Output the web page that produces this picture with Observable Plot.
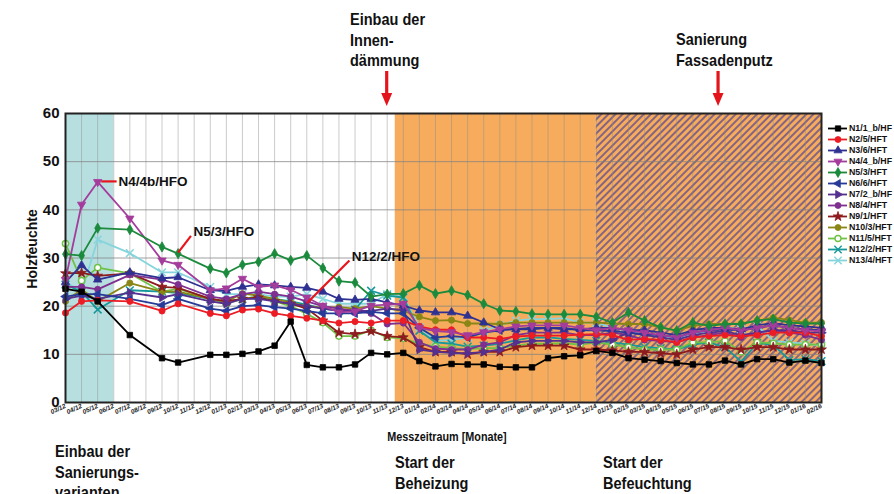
<!DOCTYPE html>
<html><head><meta charset="utf-8">
<script src="https://cdn.jsdelivr.net/npm/d3@7"></script>
<script src="https://cdn.jsdelivr.net/npm/@observablehq/plot@0.6"></script>
<style>
body{margin:0;background:#fff}
#wrap{position:relative;width:894px;height:494px;overflow:hidden;background:#fff;
  font-family:"Liberation Sans",Arial,sans-serif;font-weight:bold;color:#111}
#wrap svg{position:absolute}
.ann{position:absolute;font-size:16.5px;line-height:20.5px;white-space:nowrap;transform:scaleX(0.88);transform-origin:0 0}
#xlab{position:absolute;left:0;width:894px;top:430px;text-align:center;font-size:12px;transform:scaleX(0.9);transform-origin:447px 0}
#ylab{position:absolute;left:-28px;top:239px;width:120px;height:20px;line-height:20px;text-align:center;font-size:14px;transform:rotate(-90deg);transform-origin:60px 10px}
#chart g[aria-label^="x-axis"] text{font-family:"Liberation Sans",Arial,sans-serif;font-weight:bold;font-size:6.5px;font-style:italic;fill:#222}
#chart g[aria-label^="y-axis"] text{font-family:"Liberation Sans",Arial,sans-serif;font-weight:bold;font-size:15px;fill:#111}
</style></head><body>
<div id="wrap">
  <div class="ann" style="left:350px;top:9px">Einbau der<br>Innen-<br>dämmung</div>
  <div class="ann" style="left:676px;top:29px">Sanierung<br>Fassadenputz</div>
  <div id="xlab">Messzeitraum [Monate]</div>
  <div id="ylab">Holzfeuchte</div>
  <div class="ann" style="left:55px;top:441px">Einbau der<br>Sanierungs-<br>varianten</div>
  <div class="ann" style="left:395px;top:452px">Start der<br>Beheizung</div>
  <div class="ann" style="left:603px;top:452px">Start der<br>Befeuchtung</div>
</div>
<script>
// ---------- data ----------
const monthLabels = ["03/12","04/12","05/12","06/12","07/12","08/12","09/12","10/12","11/12","12/12",
  "01/13","02/13","03/13","04/13","05/13","06/13","07/13","08/13","09/13","10/13","11/13","12/13",
  "01/14","02/14","03/14","04/14","05/14","06/14","07/14","08/14","09/14","10/14","11/14","12/14",
  "01/15","02/15","03/15","04/15","05/15","06/15","07/15","08/15","09/15","10/15","11/15","12/15",
  "01/16","02/16"];
const measuredMonths = ["03/12","04/12","05/12","07/12","09/12","10/12","12/12",
  "01/13","02/13","03/13","04/13","05/13","06/13","07/13","08/13","09/13","10/13","11/13","12/13",
  "01/14","02/14","03/14","04/14","05/14","06/14","07/14","08/14","09/14","10/14","11/14","12/14",
  "01/15","02/15","03/15","04/15","05/15","06/15","07/15","08/15","09/15","10/15","11/15","12/15",
  "01/16","02/16"];
const yTicks = [0,10,20,30,40,50,60];
const seriesNames = ["N1/1_b/HF","N2/5/HFT","N3/6/HFT","N4/4_b/HF","N5/3/HFT","N6/6/HFT","N7/2_b/HF",
  "N8/4/HFT","N9/1/HFT","N10/3/HFT","N11/5/HFT","N12/2/HFT","N13/4/HFT"];

const n1  = [23.6,23.0,21.0,14.0,9.2,8.3,9.9,9.9,10.1,10.6,11.8,16.8, 7.8,7.3,7.3,7.9,10.3,10.0,10.3,8.6,7.5,8.0,7.9,7.9,7.4,7.3,7.3,9.2,9.6,9.8,10.7, 10.3,9.2,8.9,8.6,8.2,7.9,7.9,8.7,7.9,9.0,9.0,8.3,8.7,8.2];
const n2  = [18.6,21.0,21.2,21.0,19.0,20.5,18.5,18.0,19.2,19.4,18.5,18.0, 17.5,17.0,16.5,16.8,16.5,17.0,17.0,15.8,15.1,15.1,13.5,13.5,13.2,13.7,13.9,13.9,13.9,14.1,14.2, 14.0,13.0,13.2,13.0,12.5,13.5,13.8,14.0,13.8,14.0,14.5,14.5,14.5,13.8];
const n3  = [25.0,28.5,25.5,27.0,25.8,26.0,23.3,23.2,24.0,24.5,24.3,24.0, 23.8,23.0,21.5,21.3,21.5,20.8,20.1,19.1,18.7,18.7,18.0,16.6,15.2,15.2,15.2,15.5,15.2,15.2,15.5, 15.5,15.0,15.0,14.5,14.0,15.0,15.5,15.5,15.2,16.0,16.5,16.0,15.8,15.5];
const n4  = [25.5,41.1,45.8,38.2,29.5,28.6,23.3,23.7,25.7,24.0,24.3,23.4, 21.8,20.1,18.7,18.9,20.1,20.3,20.5,15.5,14.8,14.6,14.0,14.6,15.2,15.8,16.0,16.0,16.0,15.5,15.0, 15.5,15.0,14.5,14.0,13.5,14.5,15.0,15.5,15.0,15.5,16.0,15.5,15.0,14.8];
const n5  = [30.8,30.5,36.2,35.9,32.3,30.9,27.8,26.9,28.6,29.2,30.9,29.5, 30.5,27.9,25.2,24.9,22.0,22.5,22.6,24.3,22.6,23.2,22.3,20.5,19.1,18.9,18.4,18.3,18.3,18.3,17.8, 16.6,18.7,17.0,15.6,14.9,16.6,15.9,16.3,16.3,17.0,17.3,16.6,16.4,16.4];
const n6  = [22.0,22.5,22.5,21.5,20.2,21.5,19.5,19.0,20.0,20.2,19.8,19.5, 19.0,18.5,18.5,18.5,18.8,18.5,18.5,15.5,13.5,13.8,13.5,14.5,15.0,15.3,15.5,15.5,15.5,15.0,15.0, 14.8,14.5,14.2,14.0,13.5,14.5,15.0,15.2,15.0,15.5,16.0,15.5,15.2,15.0];
const n7  = [21.5,22.2,21.5,22.8,21.8,22.5,21.0,20.5,21.5,21.5,21.0,20.5, 20.0,19.5,19.0,19.0,19.0,19.5,19.2,11.0,10.5,10.3,10.2,10.5,11.0,12.5,12.8,12.8,12.8,12.5,12.5, 13.0,14.5,14.0,13.5,13.0,14.0,14.5,14.8,14.0,14.5,15.0,15.0,14.5,14.5];
const n8  = [24.0,24.0,23.5,26.5,25.5,24.5,22.0,21.5,22.5,23.0,22.5,22.0, 21.0,20.0,19.5,19.0,18.5,16.3,16.5,12.5,11.2,11.0,11.0,12.0,12.5,14.0,14.5,14.5,14.5,14.0,14.0, 14.5,14.0,13.0,12.8,12.5,13.5,14.0,14.5,13.5,14.5,15.0,14.5,14.0,13.0];
const n9  = [26.8,26.9,26.3,26.8,24.0,23.8,21.5,21.0,21.5,21.8,21.0,20.5, 19.5,17.0,14.5,14.2,14.8,13.8,13.5,11.5,10.5,10.5,10.0,10.5,10.5,11.5,11.8,11.8,11.8,11.0,11.0, 10.8,10.5,10.5,10.2,10.0,11.0,11.5,11.5,11.0,11.5,11.5,11.0,11.0,11.0];
const n10 = [21.0,23.5,21.0,24.8,23.0,23.0,21.5,21.0,22.6,22.2,21.5,20.8, 20.0,19.7,19.8,19.5,20.0,19.5,19.0,17.8,17.0,17.1,16.4,16.4,16.3,16.6,16.6,16.6,16.6,16.6,16.6, 16.4,16.3,16.3,15.6,14.9,15.9,16.3,16.3,16.4,17.0,17.6,17.1,16.6,16.6];
const n11 = [33.0,25.3,28.0,26.8,23.0,23.6,21.5,20.5,21.5,22.0,21.0,20.0, 18.4,16.6,13.8,13.8,15.0,13.5,13.3,12.2,11.6,11.3,11.1,11.3,11.3,11.8,12.2,12.2,12.3,12.0,12.5, 12.0,11.5,11.0,11.0,11.0,12.5,12.5,12.8,10.5,12.5,12.3,12.0,12.0,12.0];
const n12 = [24.5,23.0,19.3,23.3,23.0,22.7,21.5,21.0,21.5,22.0,21.5,21.0, 20.3,19.5,19.0,19.3,23.2,22.2,21.8,14.9,12.5,12.2,11.6,11.8,12.2,12.9,13.5,13.5,13.2,13.0,12.8, 12.5,12.0,11.5,11.3,11.0,12.0,12.5,11.5,8.5,12.3,12.0,8.8,9.0,8.6];
const n13 = [25.0,23.0,33.8,31.0,27.0,27.0,24.0,22.5,22.5,22.5,22.0,22.0, 22.5,21.5,20.5,20.5,20.5,22.5,22.0,15.6,12.8,13.0,13.5,14.9,16.0,17.0,17.3,17.3,17.5,16.6,16.6, 15.5,14.8,14.3,13.8,13.2,14.2,14.8,15.6,15.2,16.0,12.8,12.5,12.2,11.8];
const seriesValues = [n1,n2,n3,n4,n5,n6,n7,n8,n9,n10,n11,n12,n13];

// phases (month labels)
const heatingStart = 20.5;          // between 11/13 and 12/13
const phaseRenovation = ["03/12","06/12"];
const phaseHumid = ["12/14","02/16"];
const callouts = [
  {label:"N4/4b/HFO", month:3.3, value:45.9, fromMonth:2.22, fromValue:45.9, toMonth:3.18, toValue:45.9},
  {label:"N5/3/HFO", month:7.95, value:35.4, fromMonth:7.0, fromValue:31.1, toMonth:7.8, toValue:34.6},
  {label:"N12/2/HFO", month:17.8, value:30.2, fromMonth:15.0, fromValue:20.6, toMonth:17.65, toValue:29.5}
];

// ---------- styles ----------
const S3 = Math.sqrt(3);
function tri(dir){return {draw(ctx,size){const y=-Math.sqrt(size/(S3*3));
  let p=[[0,2*y],[-S3*y,-y],[S3*y,-y]].map(([a,b])=>dir==="down"?[-a,-b]:dir==="right"?[-b,a]:dir==="left"?[b,-a]:[a,b]);
  ctx.moveTo(p[0][0],p[0][1]);ctx.lineTo(p[1][0],p[1][1]);ctx.lineTo(p[2][0],p[2][1]);ctx.closePath();}};}
const seriesColors = ["#000000","#ec1c24","#2e3192","#a43c9c","#1b8a3c","#283a98","#55308f","#7f2f8f","#8e1b1e","#8a8616","#6fc246","#15999a","#86d4dc"];
const seriesSymbols = ["square","circle",tri("up"),tri("down"),"diamond",tri("left"),tri("right"),"circle","star","circle","circle","times","times"];
const seriesFill = seriesColors.map((c,i)=> i===10 ? "#ffffff" : (i>=11 ? "none" : c));

const idx = m => monthLabels.indexOf(m);
const seriesData = seriesValues.map(vals => measuredMonths.map((m,i)=>({x: idx(m), y: vals[i]})));

const drawOrder = [12,11,10,9,8,7,6,5,2,1,0,3,4];
const seriesMarks = drawOrder.flatMap(i => [
  Plot.line(seriesData[i], {x:"x", y:"y", stroke: seriesColors[i], strokeWidth: 1.8}),
  Plot.dot(seriesData[i], {x:"x", y:"y", symbol: seriesSymbols[i], r: i>=11 ? 3.6 : 3.1,
    fill: seriesFill[i], stroke: seriesColors[i], strokeWidth: i>=10 ? 1.5 : 0.8})
]);

const chart = Plot.plot({
  width: 894, height: 494,
  marginLeft: 65, marginRight: 73, marginTop: 113, marginBottom: 92,
  style: {background: "transparent", overflow: "visible"},
  x: {domain: [0, 47], ticks: d3.range(monthLabels.length), tickFormat: i => monthLabels[i],
      tickRotate: -25, tickSize: 0, tickPadding: 3, label: null},
  y: {domain: [0, 60], ticks: yTicks, tickSize: 0, tickPadding: 6, label: null},
  marks: [
    Plot.rect([phaseRenovation], {x1: d => idx(d[0]), x2: d => idx(d[1]), y1: 0, y2: 60, fill: "#b8dfe0"}),
    Plot.rect([[heatingStart, idx(phaseHumid[0])]], {x1: d => d[0], x2: d => d[1], y1: 0, y2: 60, fill: "#f6ac5c"}),
    Plot.rect([phaseHumid], {x1: d => idx(d[0]), x2: d => idx(d[1]), y1: 0, y2: 60, fill: "url(#hatch)"}),
    Plot.ruleX(d3.range(monthLabels.length), {y1: 0, y2: 60, stroke: "#8c8c8c", strokeOpacity: 0.45, strokeWidth: 1}),
    Plot.ruleY(yTicks.slice(1, -1), {stroke: "#808080", strokeOpacity: 0.75, strokeWidth: 1}),
    ...seriesMarks,
    Plot.frame({stroke: "#222", strokeWidth: 2}),
    Plot.link(callouts, {x1: "fromMonth", y1: "fromValue", x2: "toMonth", y2: "toValue", stroke: "#e8141c", strokeWidth: 2.2}),
    Plot.text(callouts, {x: "month", y: "value", text: "label", textAnchor: "start", fontSize: 13.5,
      fontWeight: "bold", fontFamily: "Liberation Sans, Arial, sans-serif", fill: "#111"})
  ]
});
chart.id = "chart";
chart.style.left = "0px"; chart.style.top = "0px";
const defs = d3.select(chart).insert("defs", ":first-child");
const pat = defs.append("pattern").attr("id","hatch").attr("patternUnits","userSpaceOnUse")
  .attr("width",5).attr("height",5).attr("patternTransform","rotate(45)");
pat.append("rect").attr("width",5).attr("height",5).attr("fill","#f6ac5c");
pat.append("line").attr("x1",1).attr("y1",-1).attr("x2",1).attr("y2",6).attr("stroke","#3f389a").attr("stroke-width",1.25);
document.getElementById("wrap").prepend(chart);

// legend
const legend = Plot.plot({
  width: 70, height: 170, margin: 0,
  x: {domain: [0, 70], range: [0, 70], axis: null},
  y: {type: "point", domain: seriesNames, range: [11, 157.4], axis: null},
  style: {background: "transparent", overflow: "visible"},
  marks: [
    ...seriesNames.flatMap((name, i) => [
      Plot.ruleY([name], {x1: 4, x2: 23, stroke: seriesColors[i], strokeWidth: 1.8}),
      Plot.dot([name], {x: 13.5, y: d => d, symbol: seriesSymbols[i], r: i>=11 ? 3.4 : 3,
        fill: seriesFill[i], stroke: seriesColors[i], strokeWidth: i>=10 ? 1.4 : 0.8})
    ]),
    Plot.text(seriesNames, {x: 24.5, y: d => d, text: d => d, textAnchor: "start", fontSize: 8.8,
      fontWeight: "bold", fontFamily: "Liberation Sans, Arial, sans-serif", fill: "#111"})
  ]
});
legend.style.left = "824px"; legend.style.top = "110px";
document.getElementById("wrap").appendChild(legend);

// arrows above the chart
const ov = d3.select("#wrap").append("svg").attr("width",894).attr("height",494).style("left","0px").style("top","0px").style("pointer-events","none");
const arrowAt = [idx("11/13"), 40.6];
const xs = chart.scale ? chart.scale("x") : null;
arrowAt.forEach(m => {
  const px = xs ? xs.apply(m) : 65 + m * 16.09;
  ov.append("line").attr("x1",px).attr("x2",px).attr("y1",71).attr("y2",95).attr("stroke","#e3141b").attr("stroke-width",3.2);
  ov.append("path").attr("d",`M${px-5.5},93L${px+5.5},93L${px},106Z`).attr("fill","#e3141b");
});
</script>
</body></html>
